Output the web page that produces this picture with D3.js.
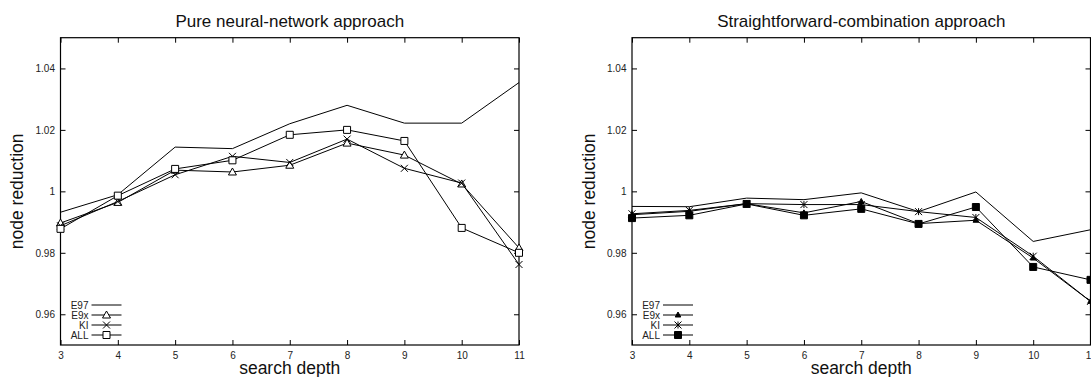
<!DOCTYPE html>
<html>
<head>
<meta charset="utf-8">
<script src="https://cdn.jsdelivr.net/npm/d3@7/dist/d3.min.js"></script>
<style>
  html, body { margin: 0; padding: 0; background: #fff; }
  svg { display: block; font-family: "Liberation Sans", Arial, Helvetica, sans-serif; }
</style>
</head>
<body>
<svg id="chart" width="1091" height="377"></svg>
<script>
// Search depths on the x axis
const depths = [3, 4, 5, 6, 7, 8, 9, 10, 11];
const seriesNames = ["E97", "E9x", "KI", "ALL"];
const yTicks = [0.96, 0.98, 1, 1.02, 1.04];
const yTickLabels = ["0.96", "0.98", "1", "1.02", "1.04"];

const panelTitles = ["Pure neural-network approach", "Straightforward-combination approach"];

// Node reduction, pure neural-network approach
const pureE97 = [0.9932, 0.9989, 1.0144, 1.0139, 1.0220, 1.0280, 1.0222, 1.0222, 1.0354];
const pureE9x = [0.9897, 0.9964, 1.0069, 1.0063, 1.0085, 1.0157, 1.0118, 1.0024, 0.9816];
const pureKI  = [0.9888, 0.9967, 1.0054, 1.0114, 1.0094, 1.0170, 1.0075, 1.0027, 0.9762];
const pureALL = [0.9878, 0.9986, 1.0073, 1.0101, 1.0184, 1.0200, 1.0164, 0.9881, 0.9800];

// Node reduction, straightforward-combination approach
const combE97 = [0.9951, 0.9950, 0.9978, 0.9973, 0.9995, 0.9934, 0.9998, 0.9837, 0.9875];
const combE9x = [0.9924, 0.9935, 0.9960, 0.9930, 0.9967, 0.9895, 0.9906, 0.9783, 0.9642];
const combKI  = [0.9927, 0.9938, 0.9960, 0.9957, 0.9957, 0.9934, 0.9915, 0.9789, 0.9642];
const combALL = [0.9913, 0.9922, 0.9959, 0.9922, 0.9943, 0.9894, 0.9949, 0.9754, 0.9712];

const panels = [
  { title: panelTitles[0], x0: 60.5, x1: 519,
    series: [pureE97, pureE9x, pureKI, pureALL],
    markers: [null, "triangle", "cross", "square"] },
  { title: panelTitles[1], x0: 632, x1: 1090.5,
    series: [combE97, combE9x, combKI, combALL],
    markers: [null, "triangleFilled", "star", "squareFilled"] }
];

const plotTop = 37.7, plotBottom = 345;

// Point-type glyphs, centred on the origin
function markerPath(type) {
  const s = 3.5;
  switch (type) {
    case "square":
    case "squareFilled": return `M${-s},${-s}H${s}V${s}H${-s}Z`;
    case "triangle": return `M0,${-s - 0.5}L${s + 0.5},${s - 0.5}L${-s - 0.5},${s - 0.5}Z`;
    case "triangleFilled": return `M0,-3L2.8,2L-2.8,2Z`;
    case "cross": return `M${-s},${-s}L${s},${s}M${-s},${s}L${s},${-s}`;
    case "star": return `M${-s},${-s}L${s},${s}M${-s},${s}L${s},${-s}M0,${-s}V${s}`;
  }
  return "";
}
function markerFill(type) {
  return (type === "squareFilled" || type === "triangleFilled") ? "#000" : "#fff";
}

const svg = d3.select("#chart");

panels.forEach(p => {
  const x = d3.scaleLinear().domain([3, 11]).range([p.x0, p.x1]);
  const y = d3.scaleLinear().domain([0.95, 1.05]).range([plotBottom, plotTop]);
  const g = svg.append("g");

  // Inward ticks on all four sides
  const fmtY = d => yTickLabels[yTicks.indexOf(d)];
  g.append("g").attr("transform", `translate(0,${plotBottom})`)
    .call(d3.axisBottom(x).tickValues(depths).tickFormat(d3.format("d")).tickSize(-5).tickSizeOuter(0).tickPadding(6.5));
  g.append("g").attr("transform", `translate(0,${plotTop})`)
    .call(d3.axisTop(x).tickValues(depths).tickFormat("").tickSize(-5).tickSizeOuter(0));
  g.append("g").attr("transform", `translate(${p.x0},0)`)
    .call(d3.axisLeft(y).tickValues(yTicks).tickFormat(fmtY).tickSize(-5).tickSizeOuter(0).tickPadding(5.5));
  g.append("g").attr("transform", `translate(${p.x1},0)`)
    .call(d3.axisRight(y).tickValues(yTicks).tickFormat("").tickSize(-5).tickSizeOuter(0));
  g.selectAll(".domain").remove();
  g.selectAll(".tick line").attr("stroke", "#000").attr("stroke-width", 1);
  g.selectAll(".tick text").attr("font-size", 10).attr("fill", "#222")
    .attr("font-family", "Liberation Sans, Arial, sans-serif");

  // Frame
  g.append("rect")
    .attr("x", p.x0).attr("y", plotTop)
    .attr("width", p.x1 - p.x0).attr("height", plotBottom - plotTop)
    .attr("fill", "none").attr("stroke", "#000").attr("stroke-width", 1.2);

  // Title and axis labels
  const cx = (p.x0 + p.x1) / 2;
  g.append("text").attr("x", cx).attr("y", 27).attr("text-anchor", "middle")
    .attr("font-size", 17).attr("fill", "#111").text(p.title);
  g.append("text").attr("x", cx).attr("y", 373.5).attr("text-anchor", "middle")
    .attr("font-size", 17.5).attr("fill", "#111").text("search depth");
  g.append("text")
    .attr("transform", `translate(${p.x0 - 37.5},${(plotTop + plotBottom) / 2}) rotate(-90)`)
    .attr("text-anchor", "middle").attr("font-size", 17.5).attr("fill", "#111")
    .text("node reduction");

  // Series lines and markers
  const line = d3.line().x((d, i) => x(depths[i])).y(d => y(d));
  p.series.forEach((vals, si) => {
    g.append("path").datum(vals).attr("d", line)
      .attr("fill", "none").attr("stroke", "#000").attr("stroke-width", 1);
    const m = p.markers[si];
    if (m) {
      g.selectAll(null).data(vals).enter().append("path")
        .attr("transform", (d, i) => `translate(${x(depths[i])},${y(d)})`)
        .attr("d", markerPath(m))
        .attr("fill", markerFill(m)).attr("stroke", "#000").attr("stroke-width", 1);
    }
  });

  // Legend, bottom-left corner inside the frame
  const legend = g.append("g");
  seriesNames.forEach((name, si) => {
    const ly = 305 + si * 10;
    legend.append("text").attr("x", p.x0 + 28).attr("y", ly).attr("dy", "0.35em")
      .attr("text-anchor", "end").attr("font-size", 10).attr("fill", "#222").text(name);
    legend.append("line").attr("x1", p.x0 + 31).attr("x2", p.x0 + 61)
      .attr("y1", ly).attr("y2", ly).attr("stroke", "#000").attr("stroke-width", 1);
    const m = p.markers[si];
    if (m) {
      legend.append("path").attr("transform", `translate(${p.x0 + 46},${ly})`)
        .attr("d", markerPath(m)).attr("fill", markerFill(m))
        .attr("stroke", "#000").attr("stroke-width", 1);
    }
  });
});
</script>
</body>
</html>
